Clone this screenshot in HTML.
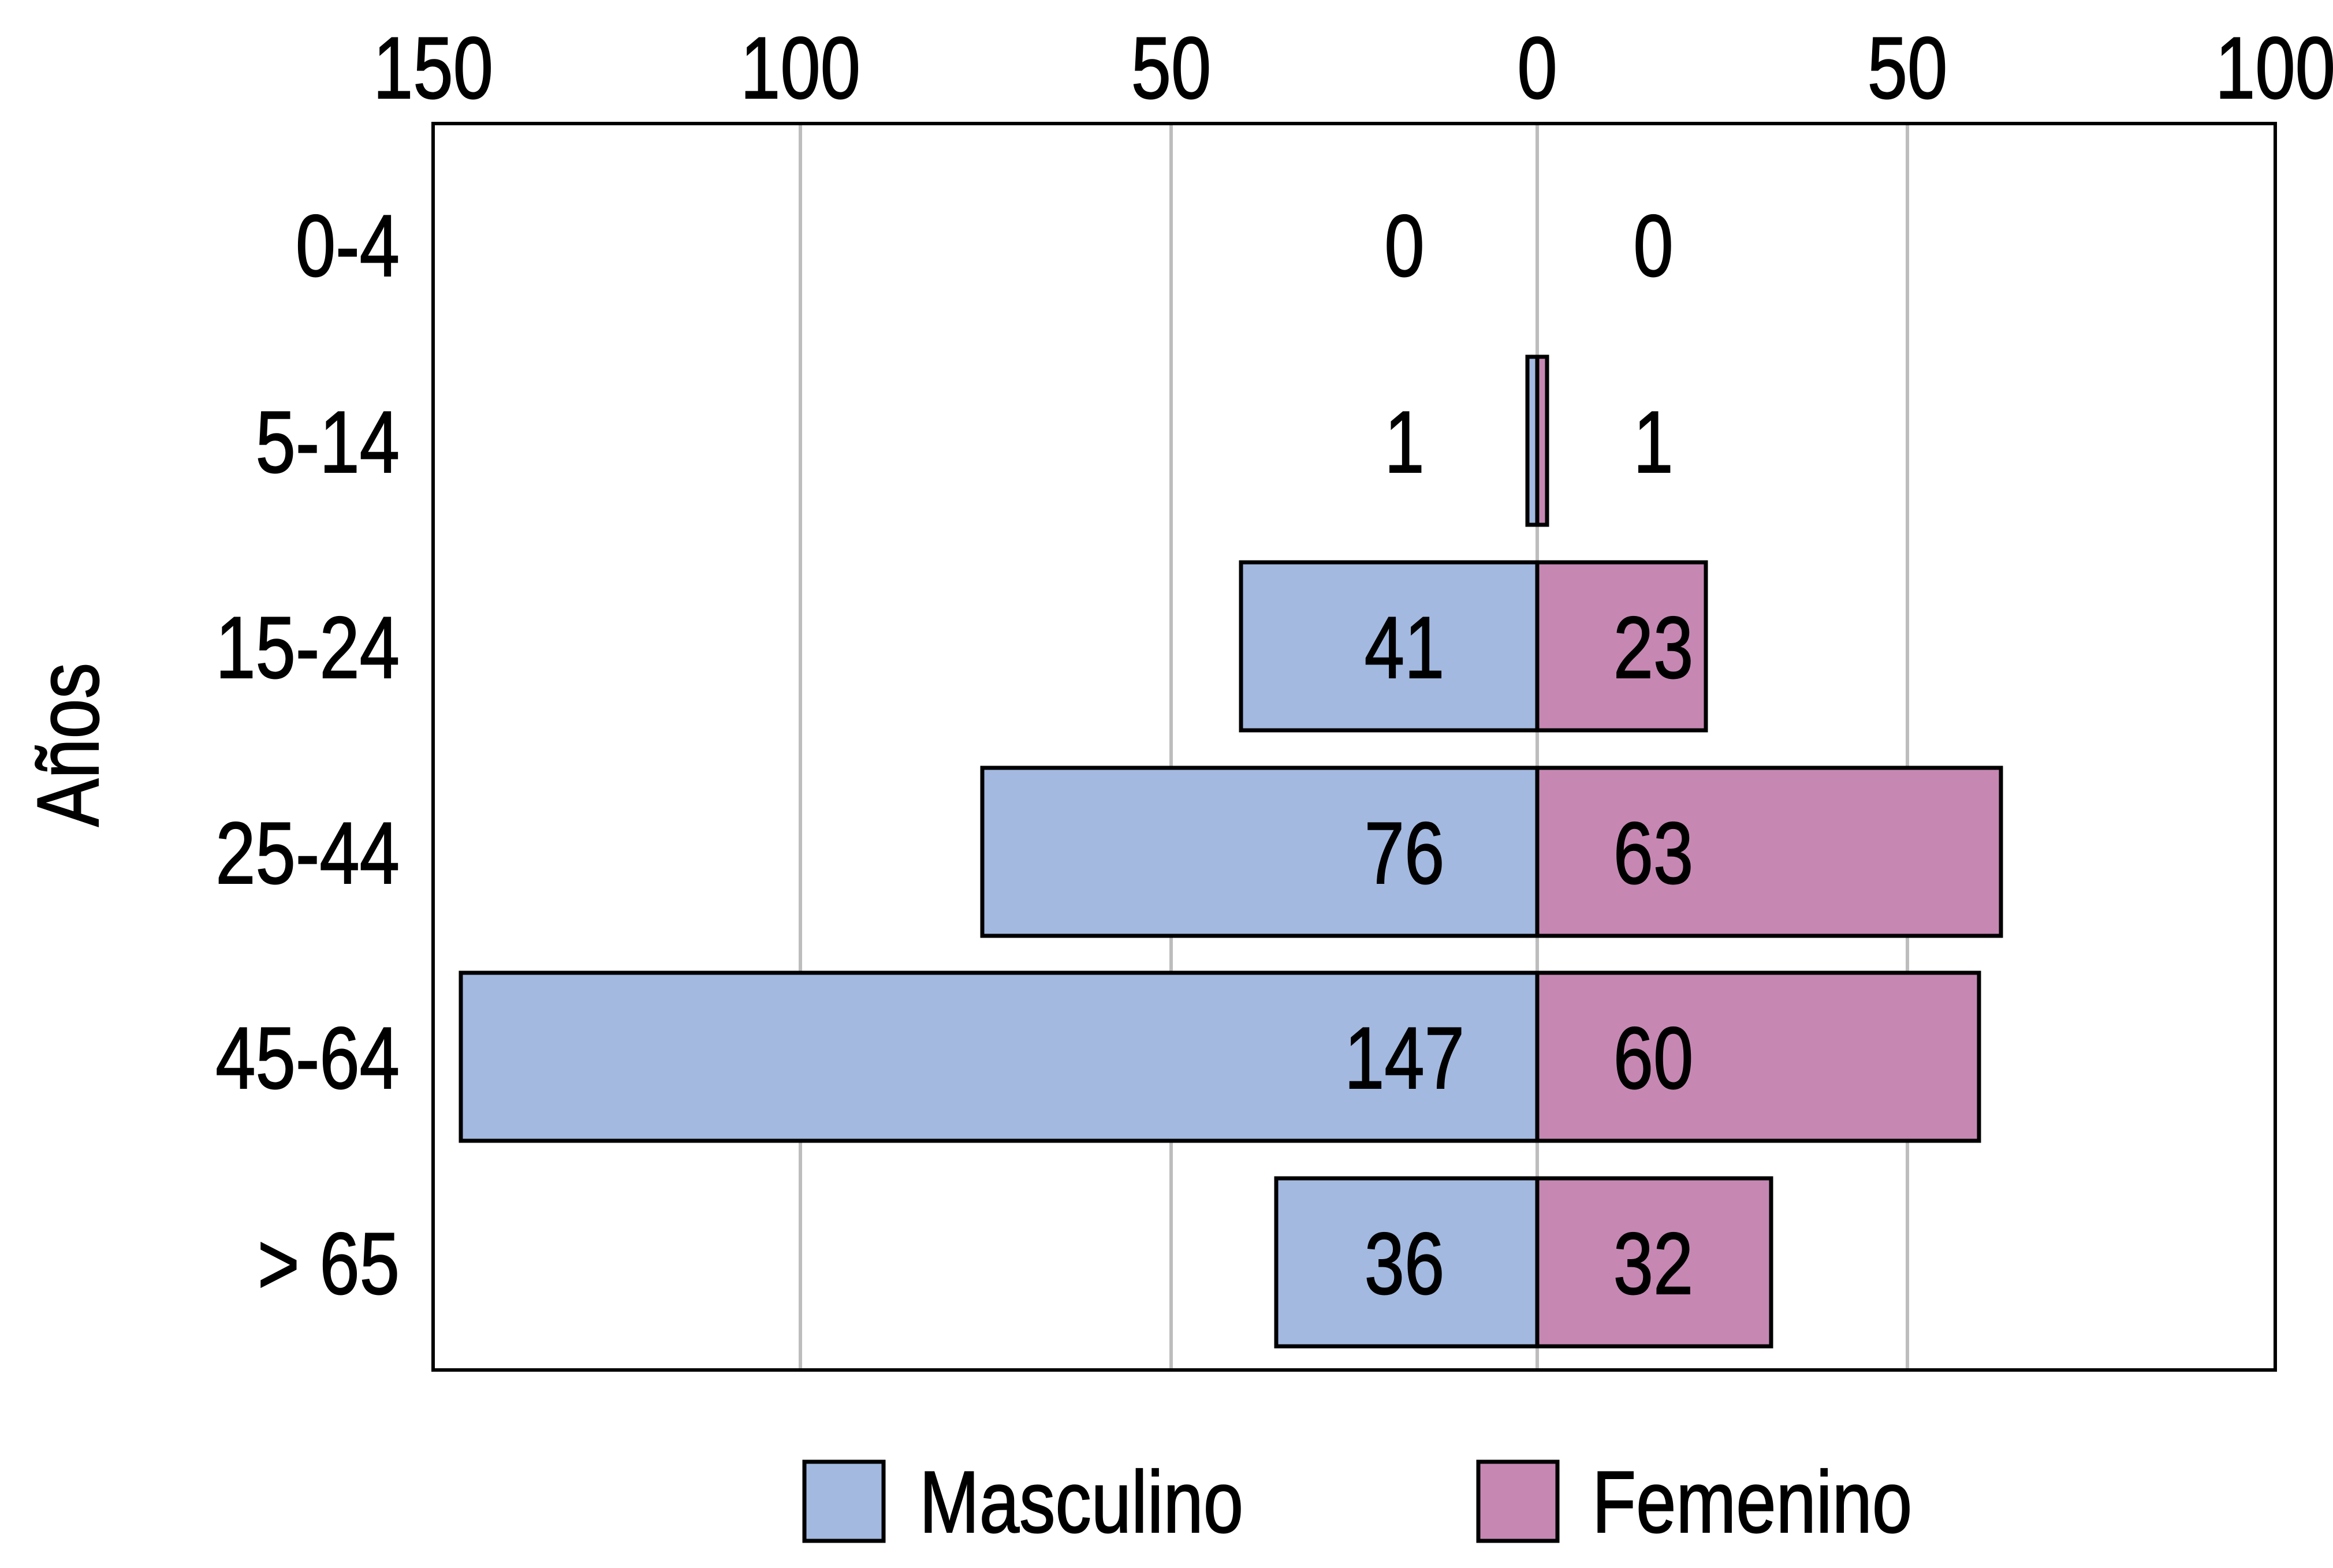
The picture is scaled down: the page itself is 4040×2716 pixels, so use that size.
<!DOCTYPE html>
<html><head><meta charset="utf-8"><style>html,body{margin:0;padding:0;background:#fff}svg{display:block}text{font-family:"Liberation Sans",sans-serif;fill:#000;stroke:#000;stroke-width:2}</style></head>
<body>
<svg width="4040" height="2716" viewBox="0 0 4040 2716" xmlns="http://www.w3.org/2000/svg">
<rect width="4040" height="2716" fill="#fff"/>
<g stroke="#bdbdbd" stroke-width="6">
<line x1="1386" y1="214" x2="1386" y2="2373"/>
<line x1="2028" y1="214" x2="2028" y2="2373"/>
<line x1="2662" y1="214" x2="2662" y2="2373"/>
<line x1="3303" y1="214" x2="3303" y2="2373"/>
</g>
<g stroke="#000" stroke-width="7">
<rect x="2645" y="618" width="17" height="291" fill="#a3b9e0"/>
<rect x="2662" y="618" width="17" height="291" fill="#c688b3"/>
<rect x="2149" y="974" width="513" height="291" fill="#a3b9e0"/>
<rect x="2662" y="974" width="292" height="291" fill="#c688b3"/>
<rect x="1701" y="1330" width="961" height="291" fill="#a3b9e0"/>
<rect x="2662" y="1330" width="803" height="291" fill="#c688b3"/>
<rect x="798" y="1685" width="1864" height="291" fill="#a3b9e0"/>
<rect x="2662" y="1685" width="765" height="291" fill="#c688b3"/>
<rect x="2210" y="2041" width="452" height="291" fill="#a3b9e0"/>
<rect x="2662" y="2041" width="405" height="291" fill="#c688b3"/>
</g>
<rect x="750" y="214" width="3190" height="2159" fill="none" stroke="#000" stroke-width="6"/>
<g font-size="152" text-anchor="middle">
<text transform="translate(750,170) scale(0.82,1)">150</text>
<text transform="translate(1386,170) scale(0.82,1)">100</text>
<text transform="translate(2028,170) scale(0.82,1)">50</text>
<text transform="translate(2662,170) scale(0.82,1)">0</text>
<text transform="translate(3303,170) scale(0.82,1)">50</text>
<text transform="translate(3940,170) scale(0.82,1)">100</text>
<text transform="translate(2432,478) scale(0.82,1)">0</text>
<text transform="translate(2863,478) scale(0.82,1)">0</text>
<text transform="translate(2432,818) scale(0.82,1)">1</text>
<text transform="translate(2863,818) scale(0.82,1)">1</text>
<text transform="translate(2432,1174) scale(0.82,1)">41</text>
<text transform="translate(2863,1174) scale(0.82,1)">23</text>
<text transform="translate(2432,1530) scale(0.82,1)">76</text>
<text transform="translate(2863,1530) scale(0.82,1)">63</text>
<text transform="translate(2432,1885) scale(0.82,1)">147</text>
<text transform="translate(2863,1885) scale(0.82,1)">60</text>
<text transform="translate(2432,2241) scale(0.82,1)">36</text>
<text transform="translate(2863,2241) scale(0.82,1)">32</text>
</g>
<g font-size="152" text-anchor="end">
<text transform="translate(692,478) scale(0.82,1)">0-4</text>
<text transform="translate(692,818) scale(0.82,1)">5-14</text>
<text transform="translate(692,1174) scale(0.82,1)">15-24</text>
<text transform="translate(692,1530) scale(0.82,1)">25-44</text>
<text transform="translate(692,1885) scale(0.82,1)">45-64</text>
<text transform="translate(692,2241) scale(0.82,1)">&gt; 65</text>
</g>
<text font-size="152" text-anchor="middle" transform="translate(170,1290) rotate(-90) scale(0.82,1)">Años</text>
<rect x="1393" y="2532" width="137" height="137" fill="#a3b9e0" stroke="#000" stroke-width="7"/>
<rect x="2560" y="2532" width="137" height="137" fill="#c688b3" stroke="#000" stroke-width="7"/>
<text font-size="152" transform="translate(1592,2654) scale(0.82,1)">Masculino</text>
<text font-size="152" transform="translate(2757,2654) scale(0.82,1)">Femenino</text>
</svg>
</body></html>
